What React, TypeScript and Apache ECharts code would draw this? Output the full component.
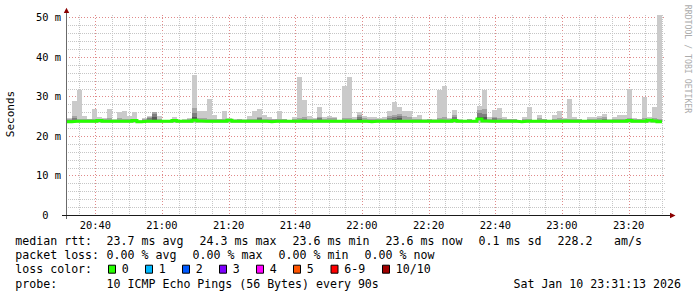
import React, { useEffect, useRef } from 'react';
import * as echarts from 'echarts';

// ---- time layout (minutes after 20:00) ----
const STEP_MIN = 1.5; // 90 s steps
const FIRST_STEP_MIN = 31.5; // 20:31:30
const AXIS_START_MIN = 31 + 13 / 60; // 20:31:13
const AXIS_END_MIN = AXIS_START_MIN + 180; // 23:31:13
const Y_MAX = 50.6;

// ---- data (ms) ----
const MEDIAN = [
  23.6, 23.7, 23.7, 23.7, 23.7, 23.7, 23.9, 23.7, 23.7, 23.7,
  23.7, 23.7, 23.7, 23.9, 23.6, 23.7, 23.7, 23.7, 23.7, 23.7,
  23.7, 23.9, 23.7, 23.7, 23.7, 24.0, 23.8, 23.7, 23.7, 23.7,
  23.7, 23.7, 24.0, 23.7, 23.7, 23.7, 23.7, 23.7, 23.7, 23.7,
  23.6, 23.7, 23.7, 23.7, 23.7, 23.7, 23.8, 23.7, 23.7, 23.7,
  23.7, 23.7, 23.7, 23.7, 23.7, 23.8, 23.7, 23.7, 23.7, 23.7,
  23.6, 23.7, 23.7, 23.7, 23.7, 23.7, 23.7, 23.7, 23.7, 23.7,
  23.7, 23.7, 23.7, 23.7, 23.8, 23.7, 23.7, 23.9, 23.7, 23.7,
  23.7, 23.7, 24.3, 23.8, 23.7, 23.7, 23.7, 23.7, 23.7, 23.7,
  23.6, 23.7, 23.7, 23.7, 23.7, 23.7, 23.7, 23.7, 23.7, 23.8,
  23.7, 23.7, 23.7, 23.7, 23.7, 23.7, 23.7, 23.7, 23.7, 23.7,
  23.7, 23.7, 23.9, 23.7, 23.7, 23.7, 24.0, 23.8, 23.6,
];

const PING_MAX = [
  24.5, 28.9, 31.7, 25.1, 24.4, 26.9, 24.7, 24.5, 26.9, 24.2,
  26.0, 26.4, 25.0, 26.0, 24.0, 24.5, 25.0, 26.0, 25.0, 24.0,
  24.0, 24.8, 24.0, 24.2, 24.5, 35.3, 26.2, 26.2, 29.4, 25.3,
  24.4, 26.2, 24.5, 24.2, 24.4, 24.2, 25.0, 26.2, 26.9, 25.4,
  24.7, 24.3, 26.2, 24.4, 24.1, 24.7, 34.9, 29.2, 25.0, 24.5,
  27.2, 24.8, 25.0, 24.8, 24.0, 32.6, 34.9, 24.8, 26.0, 25.0,
  24.7, 24.8, 24.5, 24.7, 26.2, 28.5, 27.2, 26.2, 26.2, 24.8,
  25.3, 24.2, 24.4, 24.2, 31.7, 32.6, 24.5, 26.6, 24.2, 24.0,
  24.3, 24.0, 27.7, 31.7, 24.8, 26.6, 27.0, 24.8, 24.3, 24.3,
  23.9, 24.8, 27.4, 24.0, 25.4, 24.4, 24.0, 25.4, 26.4, 24.6,
  29.4, 24.8, 24.4, 24.1, 24.9, 24.9, 25.0, 25.6, 24.2, 24.8,
  25.4, 25.4, 32.0, 24.6, 24.3, 29.9, 24.9, 27.2, 50.7,
];

const PING_9 = [
  24.2, 25.0, 24.4, 24.3, 24.2, 24.4, 24.3, 24.2, 24.6, 23.9,
  24.6, 24.3, 24.3, 24.4, 23.9, 24.2, 24.9, 26.0, 24.3, 23.9,
  23.9, 24.3, 23.9, 23.9, 24.2, 27.0, 24.6, 24.5, 24.3, 24.3,
  24.2, 24.3, 24.3, 23.9, 24.2, 23.9, 24.3, 24.4, 24.9, 24.3,
  24.2, 24.2, 24.3, 24.2, 23.9, 24.2, 24.6, 24.9, 24.3, 24.2,
  24.9, 24.2, 24.6, 24.5, 23.9, 24.5, 24.6, 24.3, 25.2, 24.5,
  24.2, 24.3, 24.2, 24.3, 25.0, 25.4, 25.5, 25.0, 24.8, 24.3,
  24.4, 23.9, 24.2, 23.9, 24.6, 24.8, 24.2, 25.3, 23.9, 23.9,
  24.2, 23.9, 26.6, 26.8, 24.3, 24.9, 24.6, 24.3, 24.2, 24.2,
  23.8, 24.3, 24.4, 23.9, 24.5, 24.2, 23.9, 24.4, 24.5, 24.3,
  24.3, 24.3, 24.2, 23.9, 24.4, 24.4, 24.6, 24.8, 23.9, 24.3,
  24.4, 24.4, 24.5, 24.3, 24.2, 24.6, 24.4, 24.6, 24.4,
];

const PING_8 = [
  24.0, 24.6, 24.0, 24.0, 24.0, 24.0, 24.0, 24.0, 24.0, 23.8,
  24.0, 24.0, 24.0, 24.0, 23.8, 24.0, 24.5, 25.6, 24.0, 23.8,
  23.8, 24.0, 23.8, 23.8, 24.0, 25.7, 24.0, 24.0, 24.0, 24.0,
  24.0, 24.0, 24.0, 23.8, 24.0, 23.8, 24.0, 24.0, 24.5, 24.0,
  24.0, 24.0, 24.0, 24.0, 23.8, 24.0, 24.0, 24.4, 24.0, 24.0,
  24.6, 24.0, 24.0, 24.0, 23.8, 24.0, 24.0, 24.0, 24.8, 24.0,
  24.0, 24.0, 24.0, 24.0, 24.5, 24.9, 25.0, 24.0, 24.0, 24.0,
  24.0, 23.8, 24.0, 23.8, 24.0, 24.0, 24.0, 24.8, 23.8, 23.8,
  24.0, 23.8, 25.7, 25.5, 24.0, 24.5, 24.0, 24.0, 24.0, 24.0,
  23.7, 24.0, 24.0, 23.8, 24.0, 24.0, 23.8, 24.0, 24.0, 24.0,
  24.0, 24.0, 24.0, 23.8, 24.0, 24.0, 24.0, 24.4, 23.8, 24.0,
  24.0, 24.0, 24.0, 24.0, 24.0, 24.0, 24.0, 24.0, 24.0,
];

const PING_7 = [
  23.8, 23.8, 23.8, 23.8, 23.8, 23.8, 23.8, 23.8, 23.8, 23.8,
  23.8, 23.8, 23.8, 23.8, 23.8, 23.8, 23.8, 24.8, 23.8, 23.8,
  23.8, 23.8, 23.8, 23.8, 23.8, 24.8, 23.8, 23.8, 23.8, 23.8,
  23.8, 23.8, 23.8, 23.8, 23.8, 23.8, 23.8, 23.8, 23.8, 23.8,
  23.8, 23.8, 23.8, 23.8, 23.8, 23.8, 23.8, 23.8, 23.8, 23.8,
  23.8, 23.8, 23.8, 23.8, 23.8, 23.8, 23.8, 23.8, 24.4, 23.8,
  23.8, 23.8, 23.8, 23.8, 23.8, 24.4, 24.5, 23.8, 23.8, 23.8,
  23.8, 23.8, 23.8, 23.8, 23.8, 23.8, 23.8, 23.8, 23.8, 23.8,
  23.8, 23.8, 24.9, 24.7, 23.8, 23.8, 23.8, 23.8, 23.8, 23.8,
  23.6, 23.8, 23.8, 23.8, 23.8, 23.8, 23.8, 23.8, 23.8, 23.8,
  23.8, 23.8, 23.8, 23.8, 23.8, 23.8, 23.8, 23.8, 23.8, 23.8,
  23.8, 23.8, 23.8, 23.8, 23.8, 23.8, 23.8, 23.8, 23.8,
];

const PING_MIN = [
  23.2, 23.4, 23.4, 23.4, 23.4, 23.4, 23.4, 23.4, 23.4, 23.4,
  23.4, 23.4, 23.4, 23.4, 23.4, 23.3, 23.4, 23.4, 23.4, 23.4,
  23.4, 23.4, 23.4, 23.4, 23.4, 23.4, 23.4, 23.4, 23.4, 23.4,
  23.4, 23.4, 23.3, 23.4, 23.4, 23.4, 23.4, 23.4, 23.4, 23.4,
  23.4, 23.4, 23.4, 23.4, 23.4, 23.4, 23.4, 23.4, 23.4, 23.4,
  23.4, 23.4, 23.4, 23.4, 23.4, 23.4, 23.4, 23.4, 23.4, 23.4,
  23.3, 23.4, 23.4, 23.4, 23.4, 23.4, 23.4, 23.4, 23.4, 23.4,
  23.4, 23.4, 23.4, 23.4, 23.4, 23.4, 23.4, 23.4, 23.4, 23.4,
  23.4, 23.4, 23.4, 23.4, 23.4, 23.4, 23.4, 23.4, 23.4, 23.4,
  23.3, 23.4, 23.4, 23.4, 23.4, 23.4, 23.4, 23.4, 23.4, 23.4,
  23.4, 23.4, 23.4, 23.4, 23.4, 23.4, 23.4, 23.4, 23.4, 23.4,
  23.4, 23.4, 23.3, 23.4, 23.4, 23.4, 23.4, 23.4, 23.4,
];

// ---- tick labels ----
const X_TICK_VALUES = [40, 60, 80, 100, 120, 140, 160, 180, 200];
const X_TICK_LABELS = ['20:40', '21:00', '21:20', '21:40', '22:00', '22:20', '22:40', '23:00', '23:20'];
const Y_TICK_VALUES = [0, 10, 20, 30, 40, 50];
const Y_TICK_LABELS = ['0\u00a0\u00a0', '10 m', '20 m', '30 m', '40 m', '50 m'];

// ---- legend texts ----
const ROW_RTT = [
  [16, 'median rtt:'], [107.3, '23.7 ms avg'], [200.3, '24.3 ms max'], [293.3, '23.6 ms min'],
  [386.3, '23.6 ms now'], [479.3, '0.1 ms sd'], [558.3, '228.2'], [614.7, 'am/s'],
];
const ROW_LOSS = [
  [16, 'packet loss:'], [107.3, '0.00 % avg'], [193.3, '0.00 % max'], [279.3, '0.00 % min'], [365.3, '0.00 % now'],
];
const LOSS_LABELS = ['0', '1', '2', '3', '4', '5', '6-9', '10/10'];
const LOSS_COLORS = ['#26ff00', '#00b8ff', '#0059ff', '#7e00ff', '#ff00ff', '#ff5500', '#ff0000', '#a10000'];
const LOSS_BOX_X = [108, 145, 182, 219, 256, 293, 330.5, 382];
const PROBE_TEXT = '10 ICMP Echo Pings (56 Bytes) every 90s';
const DATE_TEXT = 'Sat Jan 10 23:31:13 2026';

const MONO = "'DejaVu Sans Mono', monospace";
const GRID_LEFT = 66;
const GRID_TOP = 15;
const GRID_W = 600;
const GRID_H = 200;

const ROW_Y = [241.3, 255.3, 269.2, 283.6];

export default function App() {
  const ref = useRef<HTMLDivElement>(null);

  useEffect(() => {
    const chart = echarts.init(ref.current!, null, { renderer: 'svg' });

    const smokeData = MEDIAN.map((m, i) => [
      FIRST_STEP_MIN + i * STEP_MIN,
      FIRST_STEP_MIN + (i + 1) * STEP_MIN,
      PING_MIN[i], PING_MAX[i], PING_9[i], PING_8[i], PING_7[i], m,
    ]);
    const medianData = MEDIAN.map((m, i) => [FIRST_STEP_MIN + i * STEP_MIN, m]);
    medianData.push([FIRST_STEP_MIN + MEDIAN.length * STEP_MIN, MEDIAN[MEDIAN.length - 1]]);

    const gridX: number[][] = [];
    for (let m = 35; m <= 210; m += 5) gridX.push([m, m % 20 === 0 ? 1 : 0]);
    const gridY: number[][] = [];
    for (let v = 2; v <= 50; v += 2) gridY.push([v, v % 10 === 0 ? 1 : 0]);

    const MINOR = '#c6c6c6';
    const MAJOR = '#e08a8a';

    const graphics: any[] = [];
    const txt = (x: number, y: number, text: string, extra: any = {}) => ({
      type: 'text', x, y, z: 100,
      style: { text, fontFamily: MONO, fontSize: 11.6, fill: '#000', align: 'left', verticalAlign: 'middle', ...extra },
    });
    ROW_RTT.forEach(([x, t]) => graphics.push(txt((x as number) - 0.7, ROW_Y[0], t as string)));
    ROW_LOSS.forEach(([x, t]) => graphics.push(txt((x as number) - 0.7, ROW_Y[1], t as string)));
    graphics.push(txt(15.3, ROW_Y[2], 'loss color:'));
    LOSS_LABELS.forEach((l, k) => {
      const bx = LOSS_BOX_X[k];
      graphics.push({
        type: 'rect', z: 100,
        shape: { x: bx + 0.5, y: 265.2, width: 7, height: 8 },
        style: { fill: LOSS_COLORS[k], stroke: '#000', lineWidth: 1 },
      });
      graphics.push(txt(bx + 13.8, ROW_Y[2], l));
    });
    graphics.push(txt(15.3, ROW_Y[3], 'probe:'));
    graphics.push(txt(106.6, ROW_Y[3], PROBE_TEXT));
    graphics.push(txt(681, ROW_Y[3], DATE_TEXT, { align: 'right' }));

    // axis title & watermark
    graphics.push({
      type: 'text', x: 10.8, y: 114, rotation: Math.PI / 2, z: 100,
      style: { text: 'Seconds', fontFamily: MONO, fontSize: 11, fill: '#000', align: 'center', verticalAlign: 'middle' },
    });
    graphics.push({
      type: 'text', x: 688.3, y: 59, rotation: -Math.PI / 2, z: 100,
      style: { text: 'RRDTOOL / TOBI OETIKER', fontFamily: MONO, fontSize: 8.2, fill: '#ababab', align: 'center', verticalAlign: 'middle' },
    });

    // axes lines and arrows
    const axisY = GRID_TOP + GRID_H + 0.5;
    graphics.push({
      type: 'line', z: 100,
      shape: { x1: GRID_LEFT + 0.5, y1: 12, x2: GRID_LEFT + 0.5, y2: 219 },
      style: { stroke: '#6a6a6a', lineWidth: 1 },
    });
    graphics.push({
      type: 'line', z: 100,
      shape: { x1: 62, y1: axisY, x2: 671, y2: axisY },
      style: { stroke: '#1a1a1a', lineWidth: 1 },
    });
    graphics.push({
      type: 'polygon', z: 101,
      shape: { points: [[63.8, 13], [69.2, 13], [66.5, 7.8]] },
      style: { fill: '#8b0000' },
    });
    graphics.push({
      type: 'polygon', z: 101,
      shape: { points: [[670, axisY - 2.7], [670, axisY + 2.7], [675.5, axisY]] },
      style: { fill: '#8b0000' },
    });

    const option: any = {
      animation: false,
      backgroundColor: '#ffffff',
      textStyle: { fontFamily: MONO },
      grid: { left: GRID_LEFT, top: GRID_TOP, width: GRID_W, height: GRID_H, containLabel: false, outerBoundsMode: 'none' },
      xAxis: {
        type: 'value',
        min: AXIS_START_MIN,
        max: AXIS_END_MIN,
        axisLine: { show: false },
        axisTick: { show: false },
        splitLine: { show: false },
        axisLabel: {
          customValues: X_TICK_VALUES,
          margin: 5,
          fontFamily: MONO,
          fontSize: 10.4,
          color: '#000',
          formatter: (v: number) => {
            const k = X_TICK_VALUES.findIndex((t) => Math.abs(t - v) < 1e-6);
            return k >= 0 ? X_TICK_LABELS[k] : '';
          },
        },
      },
      yAxis: {
        type: 'value',
        min: 0,
        max: Y_MAX,
        axisLine: { show: false },
        axisTick: { show: false },
        splitLine: { show: false },
        axisLabel: {
          customValues: Y_TICK_VALUES,
          margin: 5,
          fontFamily: MONO,
          fontSize: 10.4,
          color: '#000',
          formatter: (v: number) => {
            const k = Y_TICK_VALUES.findIndex((t) => Math.abs(t - v) < 1e-6);
            return k >= 0 ? Y_TICK_LABELS[k] : '';
          },
        },
      },
      graphic: { elements: graphics },
      series: [
        {
          type: 'custom',
          name: 'gridX',
          z: 1,
          silent: true,
          data: gridX,
          encode: { x: 0 },
          renderItem: (_p: any, api: any) => {
            const v = api.value(0);
            const major = api.value(1) === 1;
            const a = api.coord([v, Y_MAX]);
            const b = api.coord([v, 0]);
            const x = Math.round(a[0]) + 0.5;
            return {
              type: 'line',
              shape: { x1: x, y1: a[1], x2: x, y2: b[1] },
              style: { stroke: major ? MAJOR : MINOR, lineWidth: 1, lineDash: major ? [1, 2] : [1, 1] },
            };
          },
        },
        {
          type: 'custom',
          name: 'gridY',
          z: 1,
          silent: true,
          data: gridY,
          encode: { y: 0 },
          renderItem: (_p: any, api: any) => {
            const v = api.value(0);
            const major = api.value(1) === 1;
            const a = api.coord([AXIS_START_MIN, v]);
            const b = api.coord([AXIS_END_MIN, v]);
            const y = Math.round(a[1]) + 0.5;
            return {
              type: 'line',
              shape: { x1: a[0], y1: y, x2: b[0], y2: y },
              style: { stroke: major ? MAJOR : MINOR, lineWidth: 1, lineDash: major ? [1, 2] : [1, 1] },
            };
          },
        },
        {
          type: 'custom',
          name: 'smoke',
          z: 2,
          clip: true,
          silent: true,
          data: smokeData,
          encode: { x: [0, 1], y: [2, 3] },
          renderItem: (_p: any, api: any) => {
            const t0 = api.value(0);
            const t1 = api.value(1);
            const med = api.value(7);
            const bands: [number, number, string][] = [
              [api.value(2), api.value(3), '#cacaca'],
              [med, api.value(4), '#a4a4a4'],
              [med, api.value(5), '#7e7e7e'],
              [med, api.value(6), '#585858'],
            ];
            const children: any[] = [];
            bands.forEach(([lo, hi, c]) => {
              if (hi <= lo) return;
              const p = api.coord([t0, hi]);
              const q = api.coord([t1, lo]);
              const x0 = Math.round(p[0]);
              const x1 = Math.round(q[0]);
              const y0 = Math.round(p[1]);
              const y1 = Math.round(q[1]);
              if (y1 - y0 <= 0) return;
              children.push({ type: 'rect', shape: { x: x0, y: y0, width: x1 - x0, height: y1 - y0 }, style: { fill: c } });
            });
            return { type: 'group', children };
          },
        },
        {
          type: 'line',
          name: 'median rtt',
          z: 3,
          step: 'end',
          clip: true,
          silent: true,
          symbol: 'none',
          data: medianData,
          lineStyle: { color: '#26ff00', width: 3, cap: 'butt', join: 'miter' },
        },
      ],
    };

    chart.setOption(option);
    return () => chart.dispose();
  }, []);

  return (
    <div
      ref={ref}
      style={{ position: 'absolute', left: 0, top: 0, width: 697, height: 297, background: '#fff' }}
    />
  );
}
